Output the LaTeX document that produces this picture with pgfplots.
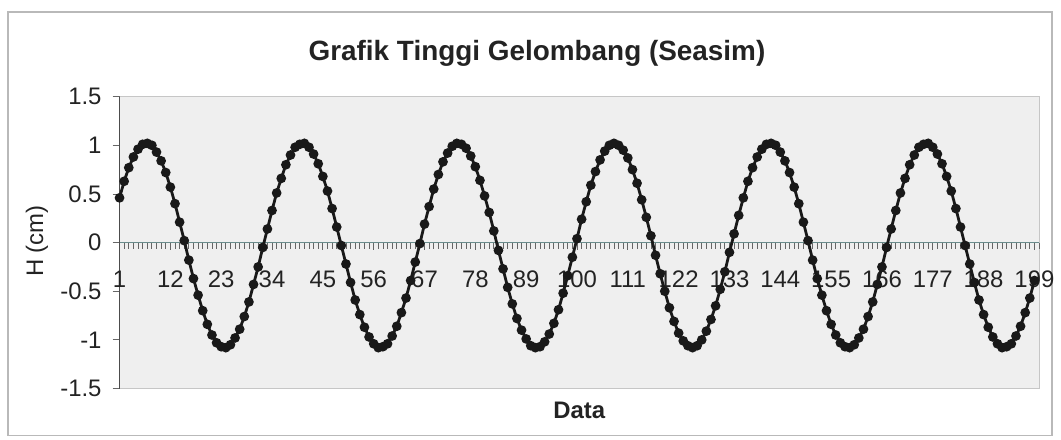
\documentclass[border=0pt]{standalone}
\usepackage{pgfplots}
\pgfplotsset{compat=1.18}
\usepackage{fontspec}
\setmainfont{Liberation Sans}
\definecolor{plotbg}{RGB}{239,239,239}
\definecolor{zeroline}{RGB}{105,140,140}
\definecolor{txt}{RGB}{35,35,35}
\begin{document}
\begin{tikzpicture}
\path (0,0) rectangle (530.5pt,220.5pt);
\draw[gray!55, line width=0.6pt] (4pt,2pt) rectangle (528pt,214.5pt);
\begin{axis}[
    at={(60pt,25.5pt)}, anchor=south west,
    scale only axis, width=461.5pt, height=146.5pt,
    xmin=1, xmax=200, ymin=-1.5, ymax=1.5,
    axis x line*=middle, axis y line*=left,
    hide obscured x ticks=false, hide obscured y ticks=false,
    axis background/.style={fill=plotbg, draw=gray!45},
    x axis line style={zeroline, line width=0.6pt},
    y axis line style={black!70, line width=0.6pt},
    ytick={-1.5,-1,-0.5,0,0.5,1,1.5},
    yticklabels={-1.5,-1,-0.5,0,0.5,1,1.5},
    xtick={1,12,23,34,45,56,67,78,89,100,111,122,133,144,155,166,177,188,199},
    xticklabels={1,12,23,34,45,56,67,78,89,100,111,122,133,144,155,166,177,188,199},
    minor xtick={1,...,200},
    tick align=outside,
    major tick length=3.5pt, minor tick length=3pt,
    every tick/.style={black!60, line width=0.4pt},
    /pgf/number format/assume math mode=true,
    tick label style={font=\fontsize{12}{14}\selectfont, text=txt},
    xticklabel style={anchor=center, yshift=-15pt},
    yticklabel style={anchor=east, xshift=-2pt},
    xlabel={\textbf{Data}},
    xlabel style={at={(axis description cs:0.5,0)}, anchor=center, yshift=-11pt,
        font=\fontsize{12}{14}\selectfont, text=txt},
    clip=false,
]
\addplot[black!90, line width=1.4pt, mark=*, mark size=1.7pt] table {
x y
1 0.46
2 0.63
3 0.77
4 0.88
5 0.96
6 1.01
7 1.02
8 1.00
9 0.93
10 0.84
11 0.72
12 0.57
13 0.40
14 0.21
15 0.02
16 -0.18
17 -0.37
18 -0.54
19 -0.70
20 -0.84
21 -0.95
22 -1.03
23 -1.07
24 -1.08
25 -1.05
26 -0.98
27 -0.89
28 -0.76
29 -0.61
30 -0.43
31 -0.25
32 -0.05
33 0.14
34 0.33
35 0.51
36 0.66
37 0.80
38 0.90
39 0.98
40 1.01
41 1.02
42 0.98
43 0.91
44 0.81
45 0.68
46 0.53
47 0.35
48 0.16
49 -0.03
50 -0.22
51 -0.41
52 -0.59
53 -0.74
54 -0.87
55 -0.97
56 -1.04
57 -1.08
58 -1.07
59 -1.04
60 -0.96
61 -0.86
62 -0.72
63 -0.57
64 -0.39
65 -0.20
66 -0.01
67 0.19
68 0.37
69 0.55
70 0.70
71 0.83
72 0.92
73 0.99
74 1.02
75 1.01
76 0.97
77 0.89
78 0.78
79 0.64
80 0.48
81 0.31
82 0.12
83 -0.08
84 -0.27
85 -0.46
86 -0.63
87 -0.78
88 -0.90
89 -0.99
90 -1.06
91 -1.08
92 -1.07
93 -1.02
94 -0.94
95 -0.83
96 -0.69
97 -0.52
98 -0.34
99 -0.15
100 0.04
101 0.24
102 0.42
103 0.59
104 0.73
105 0.85
106 0.94
107 1.00
108 1.02
109 1.00
110 0.95
111 0.87
112 0.75
113 0.61
114 0.44
115 0.26
116 0.07
117 -0.13
118 -0.32
119 -0.50
120 -0.67
121 -0.81
122 -0.93
123 -1.01
124 -1.06
125 -1.08
126 -1.06
127 -1.00
128 -0.91
129 -0.79
130 -0.65
131 -0.48
132 -0.30
133 -0.10
134 0.09
135 0.28
136 0.46
137 0.63
138 0.77
139 0.88
140 0.96
141 1.01
142 1.02
143 1.00
144 0.93
145 0.84
146 0.72
147 0.57
148 0.40
149 0.21
150 0.02
151 -0.18
152 -0.37
153 -0.54
154 -0.70
155 -0.84
156 -0.95
157 -1.03
158 -1.07
159 -1.08
160 -1.05
161 -0.98
162 -0.89
163 -0.76
164 -0.61
165 -0.43
166 -0.25
167 -0.05
168 0.14
169 0.33
170 0.51
171 0.66
172 0.80
173 0.90
174 0.98
175 1.01
176 1.02
177 0.98
178 0.91
179 0.81
180 0.68
181 0.53
182 0.35
183 0.16
184 -0.03
185 -0.22
186 -0.41
187 -0.59
188 -0.74
189 -0.87
190 -0.97
191 -1.04
192 -1.08
193 -1.07
194 -1.04
195 -0.96
196 -0.86
197 -0.72
198 -0.57
199 -0.39
};
\end{axis}
\node[font=\fontsize{14}{16}\selectfont\bfseries, text=txt] at (269.5pt,193.5pt) {Grafik Tinggi Gelombang (Seasim)};
\node[rotate=90, font=\fontsize{12}{14}\selectfont, text=txt] at (18.5pt,99.5pt) {H (cm)};
\end{tikzpicture}
\end{document}
